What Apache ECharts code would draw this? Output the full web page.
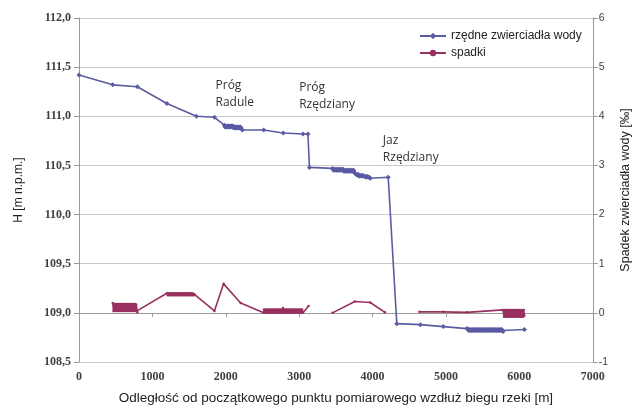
<!DOCTYPE html>
<html><head><meta charset="utf-8">
<script src="https://cdn.jsdelivr.net/npm/echarts@6/dist/echarts.min.js"></script>
<style>html,body{margin:0;padding:0;background:#fff}#c{width:640px;height:410px}</style>
</head><body><div id="c"></div>
<script>
// Water surface elevation profile (left axis, m n.p.m.)
const blueDist = [
  0, 460, 795, 1197, 1600, 1845,
  1980, 1990, 2000, 2010, 2020, 2030, 2040, 2050, 2060, 2070,
  2080, 2090, 2100, 2110, 2120, 2130, 2140, 2150, 2160, 2170,
  2180, 2190, 2200, 2210, 2225,
  2516, 2784, 3052, 3119, 3140,
  3454, 3460, 3470, 3480, 3490, 3500, 3510, 3520, 3530, 3540,
  3550, 3560, 3570, 3580, 3590, 3600, 3610, 3620, 3630, 3640,
  3650, 3660, 3670, 3680, 3690, 3700, 3710, 3720, 3730, 3740,
  3744,
  3760, 3775, 3790, 3805, 3820, 3835, 3850, 3865, 3880, 3895, 3910, 3925, 3940, 3955, 3968, 4213,
  4330, 4651, 4964,
  5286, 5300, 5310, 5320, 5330, 5340, 5350, 5360, 5370, 5380,
  5390, 5400, 5410, 5420, 5430, 5440, 5450, 5460, 5470, 5480,
  5490, 5500, 5510, 5520, 5530, 5540, 5550, 5560, 5570, 5580,
  5590, 5600, 5610, 5620, 5630, 5640, 5650, 5660, 5670, 5680,
  5690, 5700, 5710, 5720, 5730, 5740, 5750, 5760, 5770, 5777,
  6068
];
const blueH = [
  111.42, 111.32, 111.30, 111.13, 111.00, 110.99,
  110.91, 110.89, 110.90, 110.89, 110.90, 110.89, 110.90, 110.89, 110.90, 110.89,
  110.90, 110.89, 110.90, 110.88, 110.89, 110.88, 110.89, 110.88, 110.89, 110.88,
  110.89, 110.88, 110.89, 110.88, 110.86,
  110.86, 110.83, 110.82, 110.82, 110.48,
  110.47, 110.46, 110.45, 110.46, 110.45, 110.46, 110.45, 110.46, 110.45, 110.46,
  110.45, 110.46, 110.45, 110.46, 110.45, 110.46, 110.44, 110.45, 110.44, 110.45,
  110.44, 110.45, 110.44, 110.45, 110.44, 110.45, 110.44, 110.45, 110.44, 110.45,
  110.44,
  110.42, 110.41, 110.40, 110.41, 110.39, 110.40, 110.39, 110.40, 110.39, 110.39, 110.38, 110.39, 110.38, 110.38, 110.37, 110.38,
  108.89, 108.88, 108.86,
  108.84, 108.83, 108.82, 108.83, 108.82, 108.83, 108.82, 108.83, 108.82, 108.83,
  108.82, 108.83, 108.82, 108.83, 108.82, 108.83, 108.82, 108.83, 108.82, 108.83,
  108.82, 108.83, 108.82, 108.83, 108.82, 108.83, 108.82, 108.83, 108.82, 108.83,
  108.82, 108.83, 108.82, 108.83, 108.82, 108.83, 108.82, 108.83, 108.82, 108.83,
  108.82, 108.83, 108.82, 108.83, 108.82, 108.83, 108.82, 108.83, 108.82, 108.81,
  108.83
];
// Water surface slope (right axis, ‰); null = gap in line
const redDist = [
  460, 470, 480, 490, 500, 510, 520, 530, 540, 550,
  560, 570, 580, 590, 600, 610, 620, 630, 640, 650,
  660, 670, 680, 690, 700, 710, 720, 730, 740, 750,
  760, 770, 780, 790, 795,
  1197, 1210, 1220, 1230, 1240, 1250, 1260, 1270, 1280, 1290,
  1300, 1310, 1320, 1330, 1340, 1350, 1360, 1370, 1380, 1390,
  1400, 1410, 1420, 1430, 1440, 1450, 1460, 1470, 1480, 1490,
  1500, 1510, 1520, 1530, 1540, 1550, 1560, 1570, 1578,
  1845, 1970, 2203,
  2516, 2520, 2530, 2540, 2550, 2560, 2570, 2580, 2590, 2600,
  2610, 2620, 2630, 2640, 2650, 2660, 2670, 2680, 2690, 2700,
  2710, 2720, 2730, 2740, 2750, 2760, 2770, 2780, 2790, 2800,
  2810, 2820, 2830, 2840, 2850, 2860, 2870, 2880, 2890, 2900,
  2910, 2920, 2930, 2940, 2950, 2960, 2970, 2980, 2990, 3000,
  3010, 3020, 3030, 3040, 3052, 3128,
  3300,
  3454, 3758, 3968, 4169,
  4400,
  4638, 4964, 5286,
  5777, 5790, 5800, 5810, 5820, 5830, 5840, 5850, 5860, 5870,
  5880, 5890, 5900, 5910, 5920, 5930, 5940, 5950, 5960, 5970,
  5980, 5990, 6000, 6010, 6020, 6030, 6040, 6050, 6060, 6068
];
const redSlope = [
  0.20, 0.04, 0.18, 0.04, 0.18, 0.04, 0.18, 0.04, 0.18, 0.04,
  0.18, 0.04, 0.18, 0.04, 0.18, 0.04, 0.18, 0.04, 0.18, 0.04,
  0.18, 0.04, 0.18, 0.04, 0.18, 0.04, 0.18, 0.04, 0.18, 0.04,
  0.18, 0.04, 0.17, 0.04, 0.01,
  0.40, 0.36, 0.40, 0.36, 0.40, 0.36, 0.40, 0.36, 0.40, 0.36,
  0.40, 0.36, 0.40, 0.36, 0.40, 0.36, 0.40, 0.36, 0.40, 0.36,
  0.40, 0.36, 0.40, 0.36, 0.40, 0.36, 0.40, 0.36, 0.40, 0.36,
  0.40, 0.36, 0.40, 0.36, 0.40, 0.36, 0.39, 0.36, 0.37,
  0.04, 0.59, 0.20,
  0.00, 0.07, 0.00, 0.07, 0.00, 0.07, 0.00, 0.07, 0.00, 0.07,
  0.00, 0.07, 0.00, 0.07, 0.00, 0.07, 0.00, 0.07, 0.00, 0.07,
  0.00, 0.07, 0.00, 0.07, 0.00, 0.07, 0.00, 0.10, 0.00, 0.07,
  0.00, 0.07, 0.00, 0.07, 0.00, 0.07, 0.00, 0.07, 0.00, 0.07,
  0.00, 0.07, 0.00, 0.07, 0.00, 0.07, 0.00, 0.07, 0.00, 0.07,
  0.00, 0.07, 0.00, 0.07, 0.00, 0.14,
  null,
  0.00, 0.23, 0.21, 0.01,
  null,
  0.02, 0.02, 0.01,
  0.06, -0.08, 0.06, -0.08, 0.06, -0.08, 0.06, -0.08, 0.06, -0.08,
  0.06, -0.08, 0.06, -0.08, 0.06, -0.08, 0.06, -0.08, 0.06, -0.08,
  0.06, -0.08, 0.06, -0.08, 0.06, -0.08, 0.06, -0.08, 0.06, -0.06
];
const seriesNames = ['rzędne zwierciadła wody', 'spadki'];
const annotationTexts = ['Próg\nRadule', 'Próg\nRzędziany', 'Jaz\nRzędziany'];
const annotationDist = [1860, 3000, 4140];
const annotationH = [111.23, 111.21, 110.67];

const blueData = blueDist.map((d, i) => [d, blueH[i]]);
const redData = redDist.map((d, i) => [d, redSlope[i] === null ? '-' : redSlope[i]]);

const tickFont = {fontFamily: 'Liberation Serif', fontWeight: 'bold', fontSize: 12, color: '#404040'};
const chart = echarts.init(document.getElementById('c'), null, {renderer: 'canvas'});
chart.setOption({
  animation: false,
  backgroundColor: '#fff',
  grid: {left: 79, right: 38, top: 18, bottom: 48},
  legend: {
    data: seriesNames, orient: 'vertical', left: 414, top: 25, itemWidth: 26, itemHeight: 8, itemGap: 5,
    textStyle: {fontFamily: 'Liberation Sans', fontSize: 12, color: '#222'}
  },
  xAxis: {
    type: 'value', min: 0, max: 7000, interval: 1000,
    name: 'Odległość od początkowego punktu pomiarowego wzdłuż biegu rzeki [m]',
    nameLocation: 'middle', nameGap: 29,
    nameTextStyle: {fontFamily: 'Liberation Sans', fontSize: 13.5, color: '#222'},
    axisLine: {lineStyle: {color: '#999'}},
    axisTick: {show: true, length: 4, lineStyle: {color: '#999'}},
    axisLabel: Object.assign({margin: 9, formatter: v => String(v)}, tickFont),
    splitLine: {show: false}
  },
  yAxis: [{
    type: 'value', min: 108.5, max: 112, interval: 0.5, position: 'left',
    name: 'H [m n.p.m.]', nameLocation: 'middle', nameGap: 54,
    nameTextStyle: {fontFamily: 'Liberation Sans', fontSize: 12, color: '#222'},
    axisLine: {show: true, lineStyle: {color: '#999'}},
    axisTick: {show: true, length: 5, lineStyle: {color: '#999'}},
    axisLabel: Object.assign({margin: 8, formatter: v => v.toFixed(1).replace('.', ',')}, tickFont),
    splitLine: {show: true, lineStyle: {color: '#c8c8c8'}}
  }, {
    type: 'value', min: -1, max: 6, interval: 1, position: 'right',
    name: 'Spadek zwierciadła wody [‰]', nameLocation: 'middle', nameGap: 22,
    nameTextStyle: {fontFamily: 'Liberation Sans', fontSize: 12.5, color: '#222'},
    axisLine: {show: true, lineStyle: {color: '#999'}},
    axisTick: {show: true, length: 5, lineStyle: {color: '#999'}},
    axisLabel: Object.assign({margin: 6}, tickFont, {fontWeight: 'normal', fontFamily: 'Liberation Sans', fontSize: 10.5}),
    splitLine: {show: false}
  }],
  series: [{
    name: seriesNames[0], type: 'line', yAxisIndex: 0, data: blueData,
    symbol: 'diamond', symbolSize: 5, showSymbol: true, showAllSymbol: true,
    lineStyle: {color: '#5b5ba3', width: 1.6},
    itemStyle: {color: '#5b5ba3'},
    markPoint: {
      symbol: 'circle', symbolSize: 1, itemStyle: {color: 'rgba(0,0,0,0)'},
      label: {show: true, position: 'inside', align: 'left', verticalAlign: 'middle',
        fontFamily: 'Open Sans', fontSize: 12, lineHeight: 17, color: '#333', formatter: p => p.name},
      data: annotationTexts.map((t, i) => ({name: t, coord: [annotationDist[i], annotationH[i]]}))
    }
  }, {
    name: seriesNames[1], type: 'line', yAxisIndex: 1, data: redData, connectNulls: false,
    symbol: 'circle', symbolSize: 2.5, showSymbol: true, showAllSymbol: true,
    lineStyle: {color: '#983060', width: 1.6},
    itemStyle: {color: '#983060'}
  }]
});
</script></body></html>
